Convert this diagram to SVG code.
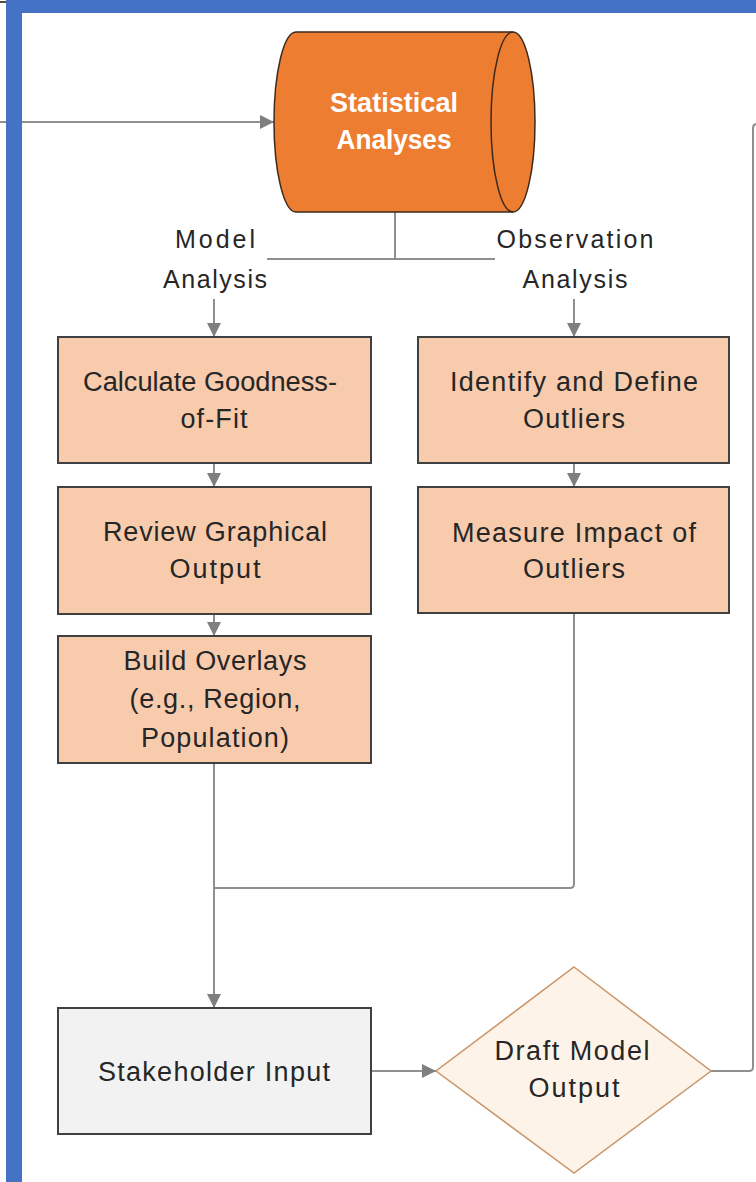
<svg xmlns="http://www.w3.org/2000/svg" width="756" height="1182" viewBox="0 0 756 1182">
<defs>
<marker id="arr" markerUnits="userSpaceOnUse" markerWidth="16" markerHeight="16" refX="14" refY="7" orient="auto">
<path d="M0,0 L14,7 L0,14 Z" fill="#7f7f7f"/>
</marker>
<style>
.box{fill:#F8CBAD;stroke:#404040;stroke-width:2}
.t{font-family:"Liberation Sans",Arial,sans-serif;font-size:27px;fill:#262626;text-anchor:middle}
.lbl{font-family:"Liberation Sans",Arial,sans-serif;font-size:25px;fill:#262626;text-anchor:middle}
.c{fill:none;stroke:#8f8f8f;stroke-width:2}
.ca{fill:none;stroke:#8f8f8f;stroke-width:2;marker-end:url(#arr)}
</style>
</defs>
<rect width="756" height="1182" fill="#ffffff"/>
<line x1="0" y1="2" x2="6" y2="2" stroke="#5a4a3a" stroke-width="2"/>
<g id="connectors">
<line class="ca" x1="0" y1="122" x2="274" y2="122"/>
<path class="c" d="M395 212 V259 M267 259 H495"/>
<line class="ca" x1="214" y1="299" x2="214" y2="337"/>
<line class="ca" x1="574" y1="299" x2="574" y2="337"/>
<line class="ca" x1="214" y1="463" x2="214" y2="487"/>
<line class="ca" x1="574" y1="463" x2="574" y2="487"/>
<line class="ca" x1="214" y1="614" x2="214" y2="636"/>
<line class="ca" x1="214" y1="763" x2="214" y2="1008"/>
<path class="c" d="M574 613 V884 Q574 888 570 888 H214"/>
<line class="ca" x1="371" y1="1071" x2="436" y2="1071"/>
<path class="c" d="M711 1071 H749 Q753 1071 753 1067 V128 Q753 124 757 124"/>
</g>
<g id="statistical-analyses">
<path d="M296 32 H513 A22 90 0 0 1 513 212 H296 A22 90 0 0 1 296 32 Z" fill="#ED7D31" stroke="#3b2a1e" stroke-width="1.5"/>
<path d="M513 32 A22 90 0 0 0 513 212" fill="none" stroke="#3b2a1e" stroke-width="1.5"/>
<text class="t" x="394" y="112" font-weight="bold" style="fill:#ffffff" textLength="128" lengthAdjust="spacing">Statistical</text>
<text class="t" x="394" y="149" font-weight="bold" style="fill:#ffffff" textLength="115" lengthAdjust="spacingAndGlyphs">Analyses</text>
</g>
<g id="label-model">
<text class="lbl" x="215" y="248" textLength="80" lengthAdjust="spacing">Model</text>
<text class="lbl" x="215" y="288" textLength="104" lengthAdjust="spacing">Analysis</text>
</g>
<g id="label-observation">
<text class="lbl" x="575" y="248" textLength="157" lengthAdjust="spacing">Observation</text>
<text class="lbl" x="575" y="288" textLength="105" lengthAdjust="spacing">Analysis</text>
</g>
<g id="goodness-of-fit">
<rect class="box" x="58" y="337" width="313" height="126"/>
<text class="t" x="210" y="391" textLength="254" lengthAdjust="spacingAndGlyphs">Calculate Goodness-</text>
<text class="t" x="214" y="428" textLength="67" lengthAdjust="spacing">of-Fit</text>
</g>
<g id="review-graphical">
<rect class="box" x="58" y="487" width="313" height="127"/>
<text class="t" x="215" y="541" textLength="224" lengthAdjust="spacing">Review Graphical</text>
<text class="t" x="215" y="578" textLength="91" lengthAdjust="spacing">Output</text>
</g>
<g id="build-overlays">
<rect class="box" x="58" y="636" width="313" height="127"/>
<text class="t" x="215" y="670" textLength="183" lengthAdjust="spacing">Build Overlays</text>
<text class="t" x="215" y="708" textLength="171" lengthAdjust="spacing">(e.g., Region,</text>
<text class="t" x="215" y="747" textLength="148" lengthAdjust="spacing">Population)</text>
</g>
<g id="identify-outliers">
<rect class="box" x="418" y="337" width="311" height="126"/>
<text class="t" x="574" y="391" textLength="248" lengthAdjust="spacing">Identify and Define</text>
<text class="t" x="574" y="428" textLength="102" lengthAdjust="spacing">Outliers</text>
</g>
<g id="measure-impact">
<rect class="box" x="418" y="487" width="311" height="126"/>
<text class="t" x="574" y="542" textLength="244" lengthAdjust="spacing">Measure Impact of</text>
<text class="t" x="574" y="578" textLength="102" lengthAdjust="spacing">Outliers</text>
</g>
<g id="stakeholder-input">
<rect x="58" y="1008" width="313" height="126" fill="#F2F2F2" stroke="#404040" stroke-width="2"/>
<text class="t" x="214" y="1081" textLength="232" lengthAdjust="spacing">Stakeholder Input</text>
</g>
<g id="draft-model-output">
<polygon points="574,967 711,1071 574,1173 436,1071" fill="#FEF3E8" stroke="#C9956B" stroke-width="1.5"/>
<text class="t" x="572" y="1060" textLength="155" lengthAdjust="spacing">Draft Model</text>
<text class="t" x="574" y="1097" textLength="91" lengthAdjust="spacing">Output</text>
</g>
<g id="frame">
<rect x="6" y="0" width="750" height="13" fill="#4472C4"/>
<rect x="6" y="0" width="16" height="1182" fill="#4472C4"/>
</g>
</svg>
